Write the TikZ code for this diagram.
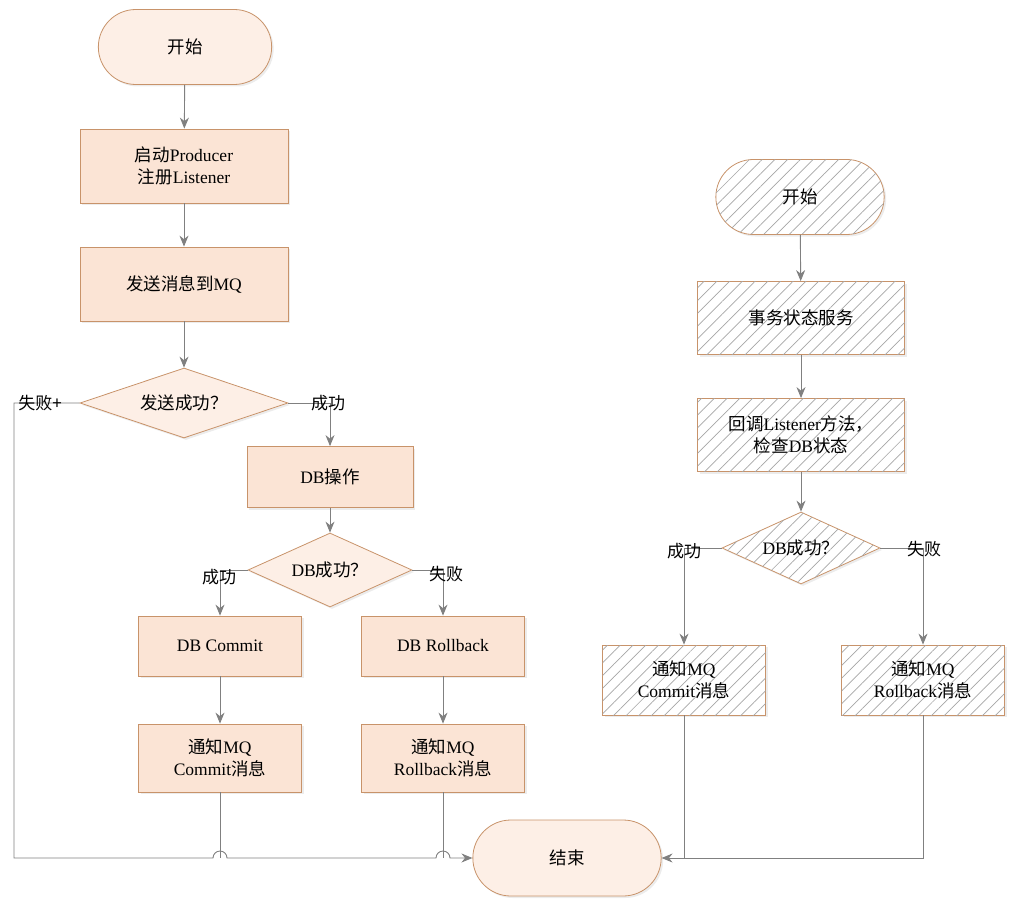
\documentclass[tikz,border=0pt]{standalone}
\usepackage{fontspec}
\setmainfont{Liberation Serif}
\newfontfamily\cjk{Noto Sans CJK SC}
\usetikzlibrary{shapes.geometric,shapes.misc,arrows.meta,patterns.meta,shadows}
\newcommand{\zh}[1]{{\cjk #1}}
\definecolor{bd}{HTML}{C8936A}
\definecolor{fl}{HTML}{FBE4D5}
\definecolor{ln}{HTML}{808080}
\begin{document}
\begin{tikzpicture}[x=1pt,y=-1pt,
  font=\fontsize{17.5}{22}\selectfont,
  base/.style={draw=bd,line width=0.8pt,align=center,drop shadow={opacity=0.15,shadow xshift=2pt,shadow yshift=-2pt}},
  term/.style={base,rounded rectangle,fill=fl!60,minimum width=180pt,minimum height=75pt},
  proc/.style={base,rectangle,fill=fl,minimum width=208pt,minimum height=74pt},
  sproc/.style={base,rectangle,fill=fl,minimum width=163pt,minimum height=62pt},
  dec/.style={base,diamond,fill=fl!60,aspect=2.8,inner sep=1pt},
  hatch/.style={fill=white,postaction={pattern={Lines[angle=45,distance=9pt,line width=0.7pt]},pattern color=black!35}},
  ar/.style={draw=ln,line width=0.9pt,-{Stealth[length=11pt,width=9pt]}},
  li/.style={draw=ln,line width=0.9pt},
  lb/.style={font=\fontsize{17}{22}\selectfont\cjk}]
\useasboundingbox (0,0) rectangle (1016,909);
% left column
\node[term] (s1) at (185,47) {\zh{开始}};
\node[proc] (p1) at (184,166) {\zh{启动}Producer\\\zh{注册}Listener};
\node[proc] (p2) at (184,284) {\zh{发送消息到}MQ};
\node[dec,minimum width=208pt,minimum height=70pt] (d1) at (184,403) {\zh{发送成功？}};
\node[proc,minimum width=166pt,minimum height=61pt] (db) at (330,477) {DB\zh{操作}};
\node[dec,minimum width=164pt,minimum height=74pt] (d2) at (330,570) {DB\zh{成功？}};
\node[sproc,minimum height=60pt] (c1) at (220,646) {DB Commit};
\node[sproc,minimum height=60pt] (r1) at (443,646) {DB Rollback};
\node[sproc,minimum height=68pt] (c2) at (220,758) {\zh{通知}MQ\\Commit\zh{消息}};
\node[sproc,minimum height=68pt] (r2) at (443,758) {\zh{通知}MQ\\Rollback\zh{消息}};
\node[term,minimum width=195pt,minimum height=76pt] (e) at (567,858) {\zh{结束}};
% right column
\node[term,hatch,minimum width=175pt] (s2) at (800,197) {\zh{开始}};
\node[proc,hatch,minimum width=207pt,minimum height=73pt] (q1) at (801,318) {\zh{事务状态服务}};
\node[proc,hatch,minimum width=207pt,minimum height=73pt] (q2) at (801,435) {\zh{回调}Listener\zh{方法，}\\\zh{检查}DB\zh{状态}};
\node[dec,hatch,minimum width=158pt,minimum height=72pt] (d3) at (801,548) {DB\zh{成功？}};
\node[sproc,hatch,minimum height=70pt] (n3) at (684,680) {\zh{通知}MQ\\Commit\zh{消息}};
\node[sproc,hatch,minimum height=70pt] (n4) at (923,680) {\zh{通知}MQ\\Rollback\zh{消息}};
% coordinates
\coordinate (a1) at (14,403);
\coordinate (a2) at (14,858);
\coordinate (b1) at (330,403);
\coordinate (b2) at (220,570);
\coordinate (b3) at (443,570);
\coordinate (h1) at (220,858);
\coordinate (h2) at (443,858);
\coordinate (k1) at (684,548);
\coordinate (k2) at (923,548);
\coordinate (k3) at (684,858);
\coordinate (k4) at (923,858);
% connectors
\draw[ar] (s1) -- (p1);
\draw[ar] (p1) -- (p2);
\draw[ar] (p2) -- (d1);
\draw[ar] (d1.east) -- (b1) -- (db);
\draw[ar] (db) -- (d2);
\draw[ar] (d2.west) -- (b2) -- (c1);
\draw[ar] (d2.east) -- (b3) -- (r1);
\draw[ar] (c1) -- (c2);
\draw[ar] (r1) -- (r2);
\draw[li] (c2) -- (h1);
\draw[li] (r2) -- (h2);
\draw[ar] (d1.west) -- (a1) -- (a2) -- ([xshift=-7pt]h1) arc[start angle=180,end angle=0,radius=7pt]
  -- ([xshift=-7pt]h2) arc[start angle=180,end angle=0,radius=7pt] -- (e.west);
\draw[ar] (s2) -- (q1);
\draw[ar] (q1) -- (q2);
\draw[ar] (q2) -- (d3);
\draw[ar] (d3.west) -- (k1) -- (n3);
\draw[ar] (d3.east) -- (k2) -- (n4);
\draw[li] (n3) -- (k3);
\draw[ar] (n4) -- (k4) -- (e.east);
% labels
\node[lb] (l1) at (40,403) {失败+};
\node[lb] (l2) at (328,403) {成功};
\node[lb] (l3) at (219,577) {成功};
\node[lb] (l4) at (446,574) {失败};
\node[lb] (l5) at (684,551) {成功};
\node[lb] (l6) at (924,549) {失败};
\end{tikzpicture}
\end{document}
